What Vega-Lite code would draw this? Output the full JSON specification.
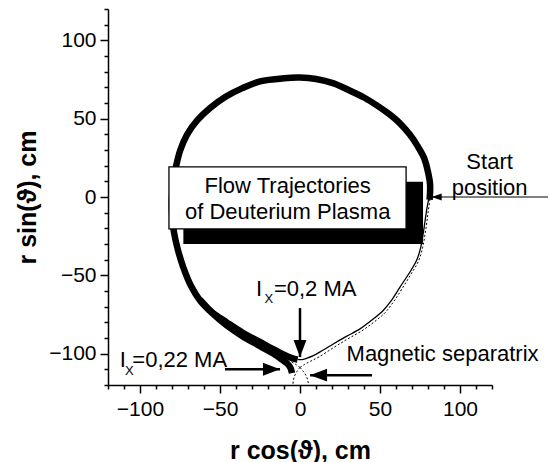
{
  "$schema": "https://vega.github.io/schema/vega-lite/v6.json",
  "width": 384,
  "height": 376,
  "autosize": {"type": "none"},
  "padding": {"left": 108, "top": 9, "right": 57, "bottom": 77},
  "background": "white",
  "config": {
    "view": {"stroke": null},
    "font": "Liberation Sans",
    "text": {"font": "Liberation Sans", "color": "black"}
  },
  "resolve": {"axis": {"x": "independent", "y": "independent"}},
  "datasets": {
    "paths": [
      {"s": "A", "i": 1, "x": 81, "y": -1.8},
      {"s": "A", "i": 2, "x": 81.3, "y": 8},
      {"s": "A", "i": 3, "x": 80, "y": 16},
      {"s": "A", "i": 4, "x": 77.5, "y": 25},
      {"s": "A", "i": 5, "x": 73.5, "y": 32.5},
      {"s": "A", "i": 6, "x": 68.5, "y": 40},
      {"s": "A", "i": 7, "x": 62, "y": 47.5},
      {"s": "A", "i": 8, "x": 55, "y": 53.5},
      {"s": "A", "i": 9, "x": 48, "y": 58.5},
      {"s": "A", "i": 10, "x": 40, "y": 63.5},
      {"s": "A", "i": 11, "x": 31, "y": 68},
      {"s": "A", "i": 12, "x": 21, "y": 72.5},
      {"s": "A", "i": 13, "x": 10, "y": 75.3},
      {"s": "A", "i": 14, "x": 0, "y": 76.2},
      {"s": "A", "i": 15, "x": -10, "y": 75.8},
      {"s": "A", "i": 16, "x": -25, "y": 73.8},
      {"s": "A", "i": 17, "x": -36, "y": 69.5},
      {"s": "A", "i": 18, "x": -46.5, "y": 64},
      {"s": "A", "i": 19, "x": -56, "y": 57},
      {"s": "A", "i": 20, "x": -64, "y": 49.2},
      {"s": "A", "i": 21, "x": -70.5, "y": 40},
      {"s": "A", "i": 22, "x": -74.8, "y": 30},
      {"s": "A", "i": 23, "x": -77.5, "y": 19.4},
      {"s": "A", "i": 24, "x": -79.2, "y": 10},
      {"s": "A", "i": 25, "x": -80, "y": 0},
      {"s": "A", "i": 26, "x": -80, "y": -10},
      {"s": "A", "i": 27, "x": -79, "y": -21},
      {"s": "A", "i": 28, "x": -76.5, "y": -33},
      {"s": "A", "i": 29, "x": -73, "y": -44.7},
      {"s": "A", "i": 30, "x": -68, "y": -57},
      {"s": "A", "i": 31, "x": -62.5, "y": -66},
      {"s": "A", "i": 32, "x": -55, "y": -74},
      {"s": "A", "i": 33, "x": -45.8, "y": -82},
      {"s": "A", "i": 34, "x": -36, "y": -88.8},
      {"s": "A", "i": 35, "x": -25, "y": -95.2},
      {"s": "A", "i": 36, "x": -17, "y": -99.8},
      {"s": "A", "i": 37, "x": -11, "y": -104},
      {"s": "A", "i": 38, "x": -8, "y": -106.3},
      {"s": "A", "i": 39, "x": -6, "y": -109},
      {"s": "A", "i": 40, "x": -5, "y": -112.4},
      {"s": "B", "i": 1, "x": -62.5, "y": -65.5},
      {"s": "B", "i": 2, "x": -55, "y": -73.5},
      {"s": "B", "i": 3, "x": -45.8, "y": -80},
      {"s": "B", "i": 4, "x": -36, "y": -86.5},
      {"s": "B", "i": 5, "x": -25, "y": -92.5},
      {"s": "B", "i": 6, "x": -17, "y": -97},
      {"s": "B", "i": 7, "x": -10, "y": -100.7},
      {"s": "B", "i": 8, "x": -5, "y": -102.8},
      {"s": "B", "i": 9, "x": -1.5, "y": -103.7},
      {"s": "C", "i": 1, "x": -1.5, "y": -103.7},
      {"s": "C", "i": 2, "x": 1, "y": -103.8},
      {"s": "C", "i": 3, "x": 4, "y": -103},
      {"s": "C", "i": 4, "x": 8.3, "y": -101.3},
      {"s": "C", "i": 5, "x": 14, "y": -98},
      {"s": "C", "i": 6, "x": 20.8, "y": -93.8},
      {"s": "C", "i": 7, "x": 29, "y": -89},
      {"s": "C", "i": 8, "x": 37.5, "y": -84.2},
      {"s": "C", "i": 9, "x": 45, "y": -78.5},
      {"s": "C", "i": 10, "x": 52, "y": -72.4},
      {"s": "C", "i": 11, "x": 57.5, "y": -65.5},
      {"s": "C", "i": 12, "x": 62.5, "y": -57.5},
      {"s": "C", "i": 13, "x": 68, "y": -49},
      {"s": "C", "i": 14, "x": 72.9, "y": -40.4},
      {"s": "C", "i": 15, "x": 75.5, "y": -32},
      {"s": "C", "i": 16, "x": 77, "y": -23.3},
      {"s": "C", "i": 17, "x": 78.2, "y": -15},
      {"s": "C", "i": 18, "x": 79.2, "y": -8},
      {"s": "C", "i": 19, "x": 80.5, "y": -1},
      {"s": "sepR", "i": 1, "x": 0, "y": -108.8},
      {"s": "sepR", "i": 2, "x": 3, "y": -106.8},
      {"s": "sepR", "i": 3, "x": 7, "y": -104.6},
      {"s": "sepR", "i": 4, "x": 12, "y": -102},
      {"s": "sepR", "i": 5, "x": 21.5, "y": -95.8},
      {"s": "sepR", "i": 6, "x": 30, "y": -90.5},
      {"s": "sepR", "i": 7, "x": 38.5, "y": -85.5},
      {"s": "sepR", "i": 8, "x": 46, "y": -80},
      {"s": "sepR", "i": 9, "x": 53, "y": -74},
      {"s": "sepR", "i": 10, "x": 58.7, "y": -66.5},
      {"s": "sepR", "i": 11, "x": 63.8, "y": -58.5},
      {"s": "sepR", "i": 12, "x": 69.2, "y": -49.5},
      {"s": "sepR", "i": 13, "x": 74, "y": -41},
      {"s": "sepR", "i": 14, "x": 76.7, "y": -32},
      {"s": "sepR", "i": 15, "x": 78.2, "y": -23.4},
      {"s": "sepR", "i": 16, "x": 79.4, "y": -15},
      {"s": "sepR", "i": 17, "x": 80.3, "y": -8},
      {"s": "sepR", "i": 18, "x": 81.6, "y": 0.5},
      {"s": "sepUL", "i": 1, "x": 0, "y": -108.8},
      {"s": "sepUL", "i": 2, "x": -3, "y": -106.6},
      {"s": "sepUL", "i": 3, "x": -6, "y": -104.8},
      {"s": "legL", "i": 1, "x": 0, "y": -108.8},
      {"s": "legL", "i": 2, "x": -2, "y": -111.5},
      {"s": "legL", "i": 3, "x": -3.5, "y": -114.5},
      {"s": "legL", "i": 4, "x": -4.2, "y": -117.5},
      {"s": "legL", "i": 5, "x": -4.4, "y": -120},
      {"s": "legR", "i": 1, "x": 0, "y": -108.8},
      {"s": "legR", "i": 2, "x": 2.2, "y": -111.5},
      {"s": "legR", "i": 3, "x": 4, "y": -114.5},
      {"s": "legR", "i": 4, "x": 5, "y": -117.5},
      {"s": "legR", "i": 5, "x": 5.3, "y": -120}
    ],
    "boxes": [
      {"b": "shadow", "x": -72.9, "x2": 76.9, "y": 9.8, "y2": -30},
      {"b": "box", "x": -81.9, "x2": 66.3, "y": 19.2, "y2": -20.4}
    ],
    "arrows": [
      {"a": "start", "x": 155, "y": 0, "x2": 82.3, "y2": 0},
      {"a": "ix02", "x": 0, "y": -70.9, "x2": 0, "y2": -102.2},
      {"a": "ix022", "x": -46.9, "y": -109.9, "x2": -12.5, "y2": -109.9},
      {"a": "sep", "x": 45, "y": -113.7, "x2": 6.3, "y2": -113.7}
    ],
    "notes": [
      {"k": "box", "t": "Flow Trajectories", "x": -7.7, "y": 2.7},
      {"k": "box", "t": "of Deuterium Plasma", "x": -7.7, "y": -14.2},
      {"k": "mid", "t": "Start", "x": 118.5, "y": 17.7},
      {"k": "mid", "t": "position", "x": 118.5, "y": 1.3},
      {"k": "left", "t": "I", "x": -27.5, "y": -63.3},
      {"k": "left", "t": "=0,2 MA", "x": -16.3, "y": -63.3},
      {"k": "left", "t": "I", "x": -112.6, "y": -108.8},
      {"k": "left", "t": "=0,22 MA", "x": -104.8, "y": -108.8},
      {"k": "left", "t": "Magnetic separatrix", "x": 29.1, "y": -104.8},
      {"k": "sub", "t": "X", "x": -22.2, "y": -67.9},
      {"k": "sub", "t": "X", "x": -109.4, "y": -113.7}
    ]
  },
  "layer": [
    {
      "data": {"name": "paths"},
      "transform": [{"filter": "indexof(['sepR','sepUL','legL','legR'], datum.s) >= 0"}],
      "mark": {"type": "line", "color": "black", "strokeWidth": 1, "strokeDash": [2, 2], "interpolate": "catmull-rom"},
      "encoding": {
        "x": {"field": "x", "type": "quantitative", "scale": {"domain": [-120, 120], "nice": false, "zero": false},
          "axis": {"orient": "bottom", "values": [-120, -110, -90, -80, -70, -60, -40, -30, -20, -10, 10, 20, 30, 40, 60, 70, 80, 90, 110, 120],
            "tickSize": 4, "tickWidth": 1.5, "tickColor": "black", "labels": false, "domain": false, "grid": false, "title": null}},
        "y": {"field": "y", "type": "quantitative", "scale": {"domain": [-120, 120], "nice": false, "zero": false},
          "axis": {"orient": "left", "values": [-120, -110, -90, -80, -70, -60, -40, -30, -20, -10, 10, 20, 30, 40, 60, 70, 80, 90, 110, 120],
            "tickSize": 4, "tickWidth": 1.5, "tickColor": "black", "labels": false, "domain": false, "grid": false, "title": null}},
        "detail": {"field": "s"},
        "order": {"field": "i", "type": "quantitative"}
      }
    },
    {
      "data": {"name": "paths"},
      "transform": [{"filter": "datum.s === 'C'"}],
      "mark": {"type": "line", "color": "black", "strokeWidth": 1.3, "interpolate": "catmull-rom"},
      "encoding": {
        "x": {"field": "x", "type": "quantitative", "scale": {"domain": [-120, 120], "nice": false, "zero": false}, "axis": null},
        "y": {"field": "y", "type": "quantitative", "scale": {"domain": [-120, 120], "nice": false, "zero": false}, "axis": null},
        "order": {"field": "i", "type": "quantitative"}
      }
    },
    {
      "data": {"name": "paths"},
      "transform": [{"filter": "datum.s === 'B'"}],
      "mark": {"type": "line", "color": "black", "strokeWidth": 6.5, "strokeCap": "butt", "strokeJoin": "round", "interpolate": "catmull-rom"},
      "encoding": {
        "x": {"field": "x", "type": "quantitative", "scale": {"domain": [-120, 120], "nice": false, "zero": false}, "axis": null},
        "y": {"field": "y", "type": "quantitative", "scale": {"domain": [-120, 120], "nice": false, "zero": false}, "axis": null},
        "order": {"field": "i", "type": "quantitative"}
      }
    },
    {
      "data": {"name": "paths"},
      "transform": [{"filter": "datum.s === 'A'"}],
      "mark": {"type": "line", "color": "black", "strokeWidth": 6.5, "strokeCap": "butt", "strokeJoin": "round", "interpolate": "catmull-rom"},
      "encoding": {
        "x": {"field": "x", "type": "quantitative", "scale": {"domain": [-120, 120], "nice": false, "zero": false},
          "axis": {"orient": "bottom", "values": [-100, -50, 0, 50, 100], "tickSize": 8, "tickWidth": 1.5, "tickColor": "black",
            "domainColor": "black", "domainWidth": 1.5, "grid": false, "labelFont": "Liberation Sans", "labelFontSize": 21,
            "labelColor": "black", "labelPadding": 5, "labelFlush": false, "labelOverlap": false,
            "title": "r cos(ϑ), cm", "titleFont": "Liberation Sans", "titleFontSize": 25, "titleFontWeight": "bold",
            "titleColor": "black", "titlePadding": 19}},
        "y": {"field": "y", "type": "quantitative", "scale": {"domain": [-120, 120], "nice": false, "zero": false},
          "axis": {"orient": "left", "values": [-100, -50, 0, 50, 100], "tickSize": 8, "tickWidth": 1.5, "tickColor": "black",
            "domainColor": "black", "domainWidth": 1.5, "grid": false, "labelFont": "Liberation Sans", "labelFontSize": 21,
            "labelColor": "black", "labelPadding": 4, "labelFlush": false, "labelOverlap": false,
            "title": "r sin(ϑ), cm", "titleFont": "Liberation Sans", "titleFontSize": 25, "titleFontWeight": "bold",
            "titleColor": "black", "titlePadding": 8}},
        "order": {"field": "i", "type": "quantitative"}
      }
    },
    {
      "data": {"name": "boxes"},
      "transform": [{"filter": "datum.b === 'shadow'"}],
      "mark": {"type": "rect", "color": "black"},
      "encoding": {
        "x": {"field": "x", "type": "quantitative", "scale": {"domain": [-120, 120], "nice": false, "zero": false}, "axis": null},
        "x2": {"field": "x2"},
        "y": {"field": "y", "type": "quantitative", "scale": {"domain": [-120, 120], "nice": false, "zero": false}, "axis": null},
        "y2": {"field": "y2"}
      }
    },
    {
      "data": {"name": "boxes"},
      "transform": [{"filter": "datum.b === 'box'"}],
      "mark": {"type": "rect", "fill": "white", "stroke": "black", "strokeWidth": 1.3},
      "encoding": {
        "x": {"field": "x", "type": "quantitative", "scale": {"domain": [-120, 120], "nice": false, "zero": false}, "axis": null},
        "x2": {"field": "x2"},
        "y": {"field": "y", "type": "quantitative", "scale": {"domain": [-120, 120], "nice": false, "zero": false}, "axis": null},
        "y2": {"field": "y2"}
      }
    },
    {
      "data": {"name": "notes"},
      "transform": [{"filter": "datum.k === 'box'"}],
      "mark": {"type": "text", "fontSize": 22, "align": "center", "baseline": "alphabetic", "color": "black"},
      "encoding": {
        "x": {"field": "x", "type": "quantitative", "scale": {"domain": [-120, 120], "nice": false, "zero": false}, "axis": null},
        "y": {"field": "y", "type": "quantitative", "scale": {"domain": [-120, 120], "nice": false, "zero": false}, "axis": null},
        "text": {"field": "t"}
      }
    },
    {
      "data": {"name": "arrows"},
      "transform": [{"filter": "datum.a === 'start'"}],
      "mark": {"type": "rule", "color": "black", "strokeWidth": 1},
      "encoding": {
        "x": {"field": "x", "type": "quantitative", "scale": {"domain": [-120, 120], "nice": false, "zero": false}, "axis": null},
        "y": {"field": "y", "type": "quantitative", "scale": {"domain": [-120, 120], "nice": false, "zero": false}, "axis": null},
        "x2": {"field": "x2"},
        "y2": {"field": "y2"}
      }
    },
    {
      "data": {"name": "arrows"},
      "transform": [{"filter": "datum.a !== 'start'"}],
      "mark": {"type": "rule", "color": "black", "strokeWidth": 2.5},
      "encoding": {
        "x": {"field": "x", "type": "quantitative", "scale": {"domain": [-120, 120], "nice": false, "zero": false}, "axis": null},
        "y": {"field": "y", "type": "quantitative", "scale": {"domain": [-120, 120], "nice": false, "zero": false}, "axis": null},
        "x2": {"field": "x2"},
        "y2": {"field": "y2"}
      }
    },
    {
      "data": {"name": "arrows"},
      "transform": [{"filter": "datum.a === 'start'"}],
      "mark": {"type": "point", "shape": "M0,0L2,-0.7L2,0.7Z", "filled": true, "color": "black", "opacity": 1, "size": 100, "strokeWidth": 0},
      "encoding": {
        "x": {"field": "x2", "type": "quantitative", "scale": {"domain": [-120, 120], "nice": false, "zero": false}, "axis": null},
        "y": {"field": "y2", "type": "quantitative", "scale": {"domain": [-120, 120], "nice": false, "zero": false}, "axis": null}
      }
    },
    {
      "data": {"name": "arrows"},
      "transform": [{"filter": "datum.a === 'sep'"}],
      "mark": {"type": "point", "shape": "M0,0L2,-0.76L2,0.76Z", "filled": true, "color": "black", "opacity": 1, "size": 289, "strokeWidth": 0},
      "encoding": {
        "x": {"field": "x2", "type": "quantitative", "scale": {"domain": [-120, 120], "nice": false, "zero": false}, "axis": null},
        "y": {"field": "y2", "type": "quantitative", "scale": {"domain": [-120, 120], "nice": false, "zero": false}, "axis": null}
      }
    },
    {
      "data": {"name": "arrows"},
      "transform": [{"filter": "datum.a === 'ix022'"}],
      "mark": {"type": "point", "shape": "M0,0L-2,-0.76L-2,0.76Z", "filled": true, "color": "black", "opacity": 1, "size": 289, "strokeWidth": 0},
      "encoding": {
        "x": {"field": "x2", "type": "quantitative", "scale": {"domain": [-120, 120], "nice": false, "zero": false}, "axis": null},
        "y": {"field": "y2", "type": "quantitative", "scale": {"domain": [-120, 120], "nice": false, "zero": false}, "axis": null}
      }
    },
    {
      "data": {"name": "arrows"},
      "transform": [{"filter": "datum.a === 'ix02'"}],
      "mark": {"type": "point", "shape": "M0,0L-0.76,-2L0.76,-2Z", "filled": true, "color": "black", "opacity": 1, "size": 289, "strokeWidth": 0},
      "encoding": {
        "x": {"field": "x2", "type": "quantitative", "scale": {"domain": [-120, 120], "nice": false, "zero": false}, "axis": null},
        "y": {"field": "y2", "type": "quantitative", "scale": {"domain": [-120, 120], "nice": false, "zero": false}, "axis": null}
      }
    },
    {
      "data": {"name": "notes"},
      "transform": [{"filter": "datum.k === 'mid'"}],
      "mark": {"type": "text", "fontSize": 22, "align": "center", "baseline": "alphabetic", "color": "black"},
      "encoding": {
        "x": {"field": "x", "type": "quantitative", "scale": {"domain": [-120, 120], "nice": false, "zero": false}, "axis": null},
        "y": {"field": "y", "type": "quantitative", "scale": {"domain": [-120, 120], "nice": false, "zero": false}, "axis": null},
        "text": {"field": "t"}
      }
    },
    {
      "data": {"name": "notes"},
      "transform": [{"filter": "datum.k === 'left'"}],
      "mark": {"type": "text", "fontSize": 22, "align": "left", "baseline": "alphabetic", "color": "black"},
      "encoding": {
        "x": {"field": "x", "type": "quantitative", "scale": {"domain": [-120, 120], "nice": false, "zero": false}, "axis": null},
        "y": {"field": "y", "type": "quantitative", "scale": {"domain": [-120, 120], "nice": false, "zero": false}, "axis": null},
        "text": {"field": "t"}
      }
    },
    {
      "data": {"name": "notes"},
      "transform": [{"filter": "datum.k === 'sub'"}],
      "mark": {"type": "text", "fontSize": 13, "align": "left", "baseline": "alphabetic", "color": "black"},
      "encoding": {
        "x": {"field": "x", "type": "quantitative", "scale": {"domain": [-120, 120], "nice": false, "zero": false}, "axis": null},
        "y": {"field": "y", "type": "quantitative", "scale": {"domain": [-120, 120], "nice": false, "zero": false}, "axis": null},
        "text": {"field": "t"}
      }
    }
  ]
}
